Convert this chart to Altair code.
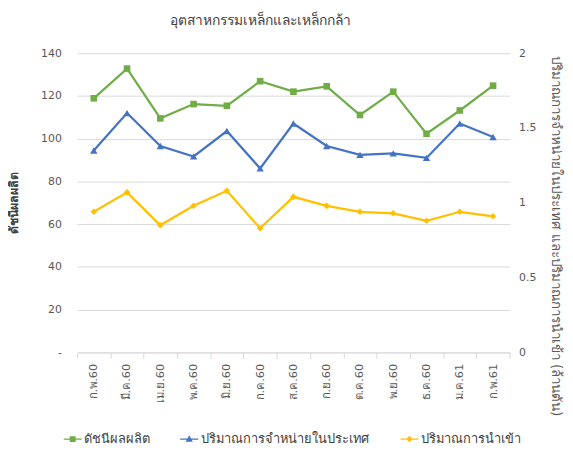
import altair as alt
import pandas as pd

months = ["ก.พ.60", "มี.ค.60", "เม.ย.60", "พ.ค.60", "มิ.ย.60", "ก.ค.60", "ส.ค.60",
          "ก.ย.60", "ต.ค.60", "พ.ย.60", "ธ.ค.60", "ม.ค.61", "ก.พ.61"]
index_vals = [118.9, 132.8, 109.5, 116.2, 115.4, 126.9, 122.0, 124.5, 111.1, 122.0, 102.3, 113.2, 124.8]
domestic_vals = [1.35, 1.60, 1.38, 1.31, 1.48, 1.23, 1.53, 1.38, 1.32, 1.33, 1.30, 1.53, 1.44]
import_vals = [0.94, 1.07, 0.85, 0.98, 1.08, 0.83, 1.04, 0.98, 0.94, 0.93, 0.88, 0.94, 0.91]

series_names = ["ดัชนีผลผลิต", "ปริมาณการจำหน่ายในประเทศ", "ปริมาณการนำเข้า"]
series_colors = ["#70AD47", "#4472C4", "#FFC000"]
legend_paths = [
    "M-1,-0.07H1V0.07H-1Z M-0.33,-0.33H0.33V0.33H-0.33Z",
    "M-1,-0.07H1V0.07H-1Z M0,-0.42L0.4,0.3H-0.4Z",
    "M-1,-0.07H1V0.07H-1Z M0,-0.36L0.36,0L0,0.36L-0.36,0Z",
]

df = pd.DataFrame({
    "month": months * 3,
    "series": [series_names[0]] * len(months) + [series_names[1]] * len(months) + [series_names[2]] * len(months),
    "value": index_vals + domestic_vals + import_vals,
})

FONT = "Tahoma, DejaVu Sans, sans-serif"
GRID = "#D9D9D9"
TXT = "#595959"

x_enc = alt.X(
    "month:N", sort=months,
    scale=alt.Scale(type="band", paddingInner=0, paddingOuter=0),
    axis=alt.Axis(title=None, labelAngle=-90, tickBand="extent", domainColor=GRID,
                  tickColor=GRID, tickSize=6, labelPadding=5, labelFontSize=11.5,
                  labelColor=TXT, grid=False),
)

left_y = alt.Y(
    "value:Q", scale=alt.Scale(domain=[0, 140]),
    axis=alt.Axis(values=list(range(0, 141, 20)),
                  labelExpr="datum.value == 0 ? '-' : datum.label",
                  title="ดัชนีผลผลิต", titleFontWeight="bold", titleFontSize=12.5,
                  titleColor="#404040", domain=False, ticks=False, gridColor=GRID,
                  labelPadding=16, titlePadding=20, labelFontSize=11, labelColor=TXT),
)

right_y = alt.Y(
    "value:Q", scale=alt.Scale(domain=[0, 2]),
    axis=alt.Axis(orient="right", values=[0, 0.5, 1, 1.5, 2], format=".1~f",
                  title="ปริมาณการจำหน่ายในประเทศ และปริมาณการนำเข้า (ล้านตัน)",
                  titleFontWeight="normal", titleFontSize=13.5, titleColor=TXT,
                  titleLimit=1000, titleAngle=90, titleY=185,
                  domain=False, ticks=False, grid=False, labelPadding=9,
                  titlePadding=13, labelFontSize=11, labelColor=TXT),
)

base = alt.Chart(df)

def series_layers(name, color, shape, size, y_enc):
    d = base.transform_filter(alt.datum.series == name)
    line = d.mark_line(color=color, strokeWidth=2.25).encode(x=x_enc, y=y_enc)
    pts = d.mark_point(shape=shape, filled=True, size=size, color=color, opacity=1).encode(x=x_enc, y=y_enc)
    return [line, pts]

left = alt.layer(*series_layers(series_names[0], series_colors[0], "square", 45, left_y))
right = alt.layer(
    *series_layers(series_names[1], series_colors[1], "triangle-up", 55, right_y),
    *series_layers(series_names[2], series_colors[2], "diamond", 45, right_y),
)

leg_props = dict(orient="none", direction="horizontal", legendX=-14, legendY=381,
                 title=None, symbolSize=330, symbolStrokeWidth=0, labelFontSize=13,
                 labelLimit=400, labelColor="#404040", columnPadding=31, labelOffset=2)
legend_layer = base.transform_filter("false").mark_point(filled=True, opacity=1).encode(
    color=alt.Color("series:N", scale=alt.Scale(domain=series_names, range=series_colors),
                    legend=alt.Legend(**leg_props)),
    shape=alt.Shape("series:N", scale=alt.Scale(domain=series_names, range=legend_paths),
                    legend=alt.Legend(**leg_props)),
)

chart = alt.layer(left, right, legend_layer).resolve_scale(y="independent").properties(
    width=438, height=303,
    padding={"left": 70, "top": 43, "right": 56, "bottom": 95},
    autosize=alt.AutoSizeParams(type="none"),
    title=alt.TitleParams("อุตสาหกรรมเหล็กและเหล็กกล้า", fontSize=14, fontWeight="normal",
                          color="#404040", anchor="middle", dx=-33, offset=20),
).configure(font=FONT).configure_view(stroke="transparent")

chart.save("out.html", embed_options={"renderer": "svg", "actions": False})
